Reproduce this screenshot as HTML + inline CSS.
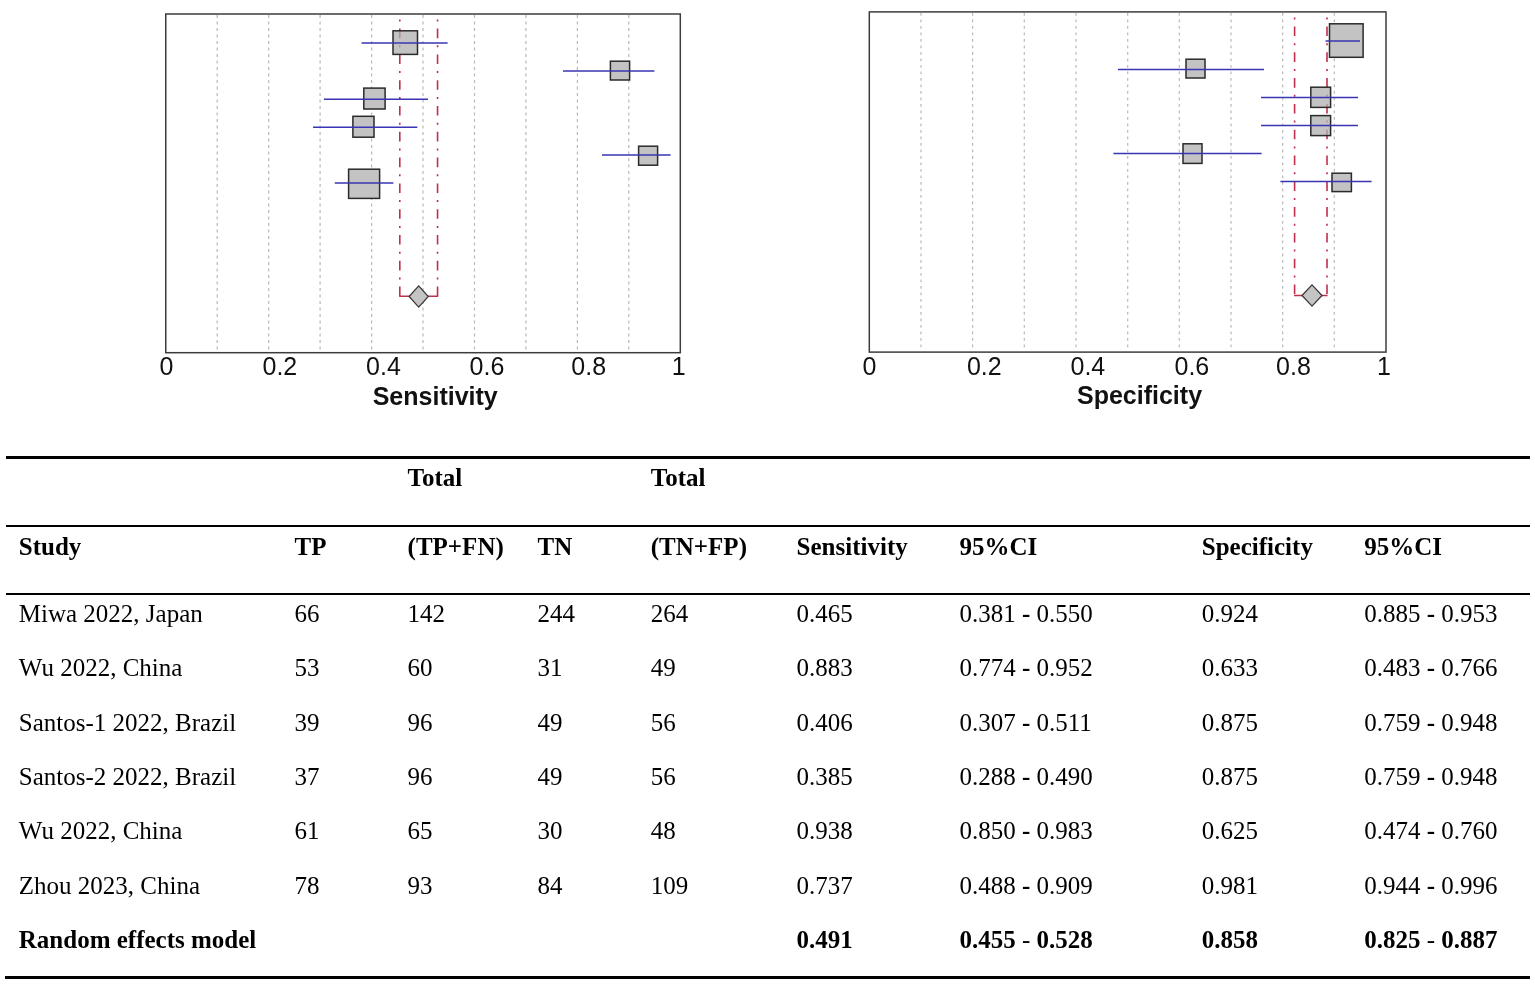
<!DOCTYPE html>
<html lang="en">
<head>
<meta charset="utf-8">
<title>Forest plot: sensitivity and specificity</title>
<style>
html,body{margin:0;padding:0;background:#fff;}
body{width:1535px;height:984px;position:relative;overflow:hidden;font-family:"Liberation Serif","Times New Roman",serif;color:#000;}
svg{position:absolute;left:0;top:0;}
.rule{position:absolute;background:#000;}
.r{position:absolute;left:0;width:1535px;height:30px;line-height:30px;font-size:25px;white-space:nowrap;transform-origin:0 23.45px;transform:scaleY(1.045);}
.r span{position:absolute;top:0;}
.b{font-weight:bold;}
.h{font-style:normal;font-weight:bold;}
.b .h{font-weight:normal;}
</style>
</head>
<body>
<svg width="1535" height="430" viewBox="0 0 1535 430">
<g id="sensitivity-plot">
<line x1="217.2" y1="15.0" x2="217.2" y2="351.7" stroke="#b8b8b8" stroke-width="1.2" stroke-dasharray="2.9 3.6" stroke-dashoffset="0"/>
<line x1="268.7" y1="15.0" x2="268.7" y2="351.7" stroke="#b8b8b8" stroke-width="1.2" stroke-dasharray="2.9 3.6" stroke-dashoffset="0"/>
<line x1="320.1" y1="15.0" x2="320.1" y2="351.7" stroke="#b8b8b8" stroke-width="1.2" stroke-dasharray="2.9 3.6" stroke-dashoffset="0"/>
<line x1="371.6" y1="15.0" x2="371.6" y2="351.7" stroke="#b8b8b8" stroke-width="1.2" stroke-dasharray="2.9 3.6" stroke-dashoffset="0"/>
<line x1="423.0" y1="15.0" x2="423.0" y2="351.7" stroke="#b8b8b8" stroke-width="1.2" stroke-dasharray="2.9 3.6" stroke-dashoffset="0"/>
<line x1="474.5" y1="15.0" x2="474.5" y2="351.7" stroke="#b8b8b8" stroke-width="1.2" stroke-dasharray="2.9 3.6" stroke-dashoffset="0"/>
<line x1="525.9" y1="15.0" x2="525.9" y2="351.7" stroke="#b8b8b8" stroke-width="1.2" stroke-dasharray="2.9 3.6" stroke-dashoffset="0"/>
<line x1="577.4" y1="15.0" x2="577.4" y2="351.7" stroke="#b8b8b8" stroke-width="1.2" stroke-dasharray="2.9 3.6" stroke-dashoffset="0"/>
<line x1="628.8" y1="15.0" x2="628.8" y2="351.7" stroke="#b8b8b8" stroke-width="1.2" stroke-dasharray="2.9 3.6" stroke-dashoffset="0"/>
<rect x="393" y="30.8" width="24.5" height="23.6" fill="#fff"/>
<rect x="610.4" y="61.2" width="19.2" height="18.8" fill="#fff"/>
<rect x="363.8" y="88.1" width="21.3" height="20.9" fill="#fff"/>
<rect x="352.9" y="116.3" width="21.1" height="20.9" fill="#fff"/>
<rect x="638.6" y="146.2" width="19.0" height="19.0" fill="#fff"/>
<rect x="348.6" y="169.2" width="31.0" height="29.2" fill="#fff"/>
<line x1="399.8" y1="14.0" x2="399.8" y2="296.3" stroke="#bf2f4c" stroke-width="1.6" stroke-dasharray="9.6 7.1 2 7.1" stroke-dashoffset="-14.6"/>
<line x1="437.55" y1="14.0" x2="437.55" y2="296.3" stroke="#bf2f4c" stroke-width="1.6" stroke-dasharray="9.6 7.1 2 7.1" stroke-dashoffset="-14.6"/>
<line x1="399.20" y1="296.3" x2="438.15" y2="296.3" stroke="#bf2f4c" stroke-width="1.5"/>
<rect x="393" y="30.8" width="24.5" height="23.6" fill="rgb(176,176,176)" fill-opacity="0.76" stroke="#2a2a2a" stroke-width="1.5"/>
<rect x="610.4" y="61.2" width="19.2" height="18.8" fill="rgb(176,176,176)" fill-opacity="0.76" stroke="#2a2a2a" stroke-width="1.5"/>
<rect x="363.8" y="88.1" width="21.3" height="20.9" fill="rgb(176,176,176)" fill-opacity="0.76" stroke="#2a2a2a" stroke-width="1.5"/>
<rect x="352.9" y="116.3" width="21.1" height="20.9" fill="rgb(176,176,176)" fill-opacity="0.76" stroke="#2a2a2a" stroke-width="1.5"/>
<rect x="638.6" y="146.2" width="19.0" height="19.0" fill="rgb(176,176,176)" fill-opacity="0.76" stroke="#2a2a2a" stroke-width="1.5"/>
<rect x="348.6" y="169.2" width="31.0" height="29.2" fill="rgb(176,176,176)" fill-opacity="0.76" stroke="#2a2a2a" stroke-width="1.5"/>
<line x1="361.6" y1="43" x2="447.6" y2="43" stroke="#3834b4" stroke-width="1.5"/>
<line x1="563" y1="71" x2="654.4" y2="71" stroke="#3834b4" stroke-width="1.5"/>
<line x1="323.9" y1="99.2" x2="428" y2="99.2" stroke="#3834b4" stroke-width="1.5"/>
<line x1="313" y1="127.2" x2="417.3" y2="127.2" stroke="#3834b4" stroke-width="1.5"/>
<line x1="602" y1="155" x2="670.6" y2="155" stroke="#3834b4" stroke-width="1.5"/>
<line x1="334.8" y1="183" x2="393.4" y2="183" stroke="#3834b4" stroke-width="1.5"/>
<polygon points="409.10,296.5 418.7,285.90 428.30,296.5 418.7,307.10" fill="#c4c4c4" stroke="#3a3a3a" stroke-width="1.3"/>
<rect x="165.75" y="14.0" width="514.55" height="338.70" fill="none" stroke="#3c3c3c" stroke-width="1.5"/>
<text x="159.6" y="375.1" font-family="Liberation Sans, Arial, sans-serif" font-size="25" fill="#111">0</text>
<text x="262.5" y="375.1" font-family="Liberation Sans, Arial, sans-serif" font-size="25" fill="#111">0.2</text>
<text x="366.1" y="375.1" font-family="Liberation Sans, Arial, sans-serif" font-size="25" fill="#111">0.4</text>
<text x="469.6" y="375.1" font-family="Liberation Sans, Arial, sans-serif" font-size="25" fill="#111">0.6</text>
<text x="571.3" y="375.1" font-family="Liberation Sans, Arial, sans-serif" font-size="25" fill="#111">0.8</text>
<text x="671.8" y="375.1" font-family="Liberation Sans, Arial, sans-serif" font-size="25" fill="#111">1</text>
<text x="372.7" y="404.6" font-family="Liberation Sans, Arial, sans-serif" font-weight="bold" font-size="25" fill="#111">Sensitivity</text>
</g>
<g id="specificity-plot">
<line x1="921.0" y1="12.9" x2="921.0" y2="351.1" stroke="#b8b8b8" stroke-width="1.2" stroke-dasharray="2.9 3.6" stroke-dashoffset="0"/>
<line x1="972.6" y1="12.9" x2="972.6" y2="351.1" stroke="#b8b8b8" stroke-width="1.2" stroke-dasharray="2.9 3.6" stroke-dashoffset="0"/>
<line x1="1024.3" y1="12.9" x2="1024.3" y2="351.1" stroke="#b8b8b8" stroke-width="1.2" stroke-dasharray="2.9 3.6" stroke-dashoffset="0"/>
<line x1="1076.0" y1="12.9" x2="1076.0" y2="351.1" stroke="#b8b8b8" stroke-width="1.2" stroke-dasharray="2.9 3.6" stroke-dashoffset="0"/>
<line x1="1127.7" y1="12.9" x2="1127.7" y2="351.1" stroke="#b8b8b8" stroke-width="1.2" stroke-dasharray="2.9 3.6" stroke-dashoffset="0"/>
<line x1="1179.3" y1="12.9" x2="1179.3" y2="351.1" stroke="#b8b8b8" stroke-width="1.2" stroke-dasharray="2.9 3.6" stroke-dashoffset="0"/>
<line x1="1231.0" y1="12.9" x2="1231.0" y2="351.1" stroke="#b8b8b8" stroke-width="1.2" stroke-dasharray="2.9 3.6" stroke-dashoffset="0"/>
<line x1="1282.7" y1="12.9" x2="1282.7" y2="351.1" stroke="#b8b8b8" stroke-width="1.2" stroke-dasharray="2.9 3.6" stroke-dashoffset="0"/>
<line x1="1334.3" y1="12.9" x2="1334.3" y2="351.1" stroke="#b8b8b8" stroke-width="1.2" stroke-dasharray="2.9 3.6" stroke-dashoffset="0"/>
<rect x="1329.5" y="23.8" width="33.6" height="33.5" fill="#fff"/>
<rect x="1186" y="59.2" width="19.0" height="18.8" fill="#fff"/>
<rect x="1310.8" y="87.2" width="19.8" height="20.2" fill="#fff"/>
<rect x="1310.8" y="115.6" width="19.8" height="20.0" fill="#fff"/>
<rect x="1183" y="143.8" width="19.0" height="19.6" fill="#fff"/>
<rect x="1332" y="173.2" width="19.4" height="18.4" fill="#fff"/>
<line x1="1294.6" y1="11.9" x2="1294.6" y2="295.4" stroke="#bf2f4c" stroke-width="1.6" stroke-dasharray="9.6 7.1 2 7.1" stroke-dashoffset="-14.6"/>
<line x1="1327" y1="11.9" x2="1327" y2="295.4" stroke="#bf2f4c" stroke-width="1.6" stroke-dasharray="9.6 7.1 2 7.1" stroke-dashoffset="-14.6"/>
<line x1="1294.00" y1="295.4" x2="1327.60" y2="295.4" stroke="#bf2f4c" stroke-width="1.5"/>
<rect x="1329.5" y="23.8" width="33.6" height="33.5" fill="rgb(176,176,176)" fill-opacity="0.76" stroke="#2a2a2a" stroke-width="1.5"/>
<rect x="1186" y="59.2" width="19.0" height="18.8" fill="rgb(176,176,176)" fill-opacity="0.76" stroke="#2a2a2a" stroke-width="1.5"/>
<rect x="1310.8" y="87.2" width="19.8" height="20.2" fill="rgb(176,176,176)" fill-opacity="0.76" stroke="#2a2a2a" stroke-width="1.5"/>
<rect x="1310.8" y="115.6" width="19.8" height="20.0" fill="rgb(176,176,176)" fill-opacity="0.76" stroke="#2a2a2a" stroke-width="1.5"/>
<rect x="1183" y="143.8" width="19.0" height="19.6" fill="rgb(176,176,176)" fill-opacity="0.76" stroke="#2a2a2a" stroke-width="1.5"/>
<rect x="1332" y="173.2" width="19.4" height="18.4" fill="rgb(176,176,176)" fill-opacity="0.76" stroke="#2a2a2a" stroke-width="1.5"/>
<line x1="1325.6" y1="41" x2="1360.0" y2="41" stroke="#3834b4" stroke-width="1.5"/>
<line x1="1118" y1="69.4" x2="1264" y2="69.4" stroke="#3834b4" stroke-width="1.5"/>
<line x1="1261" y1="97.4" x2="1358" y2="97.4" stroke="#3834b4" stroke-width="1.5"/>
<line x1="1261" y1="125.6" x2="1358" y2="125.6" stroke="#3834b4" stroke-width="1.5"/>
<line x1="1113.4" y1="153.6" x2="1261.6" y2="153.6" stroke="#3834b4" stroke-width="1.5"/>
<line x1="1280.4" y1="181.6" x2="1371.6" y2="181.6" stroke="#3834b4" stroke-width="1.5"/>
<polygon points="1302.00,295.5 1312,284.90 1322.00,295.5 1312,306.10" fill="#c4c4c4" stroke="#3a3a3a" stroke-width="1.3"/>
<rect x="869.3" y="11.9" width="516.70" height="340.20" fill="none" stroke="#3c3c3c" stroke-width="1.5"/>
<text x="862.4" y="375.1" font-family="Liberation Sans, Arial, sans-serif" font-size="25" fill="#111">0</text>
<text x="966.9" y="375.1" font-family="Liberation Sans, Arial, sans-serif" font-size="25" fill="#111">0.2</text>
<text x="1070.5" y="375.1" font-family="Liberation Sans, Arial, sans-serif" font-size="25" fill="#111">0.4</text>
<text x="1174.5" y="375.1" font-family="Liberation Sans, Arial, sans-serif" font-size="25" fill="#111">0.6</text>
<text x="1276.1" y="375.1" font-family="Liberation Sans, Arial, sans-serif" font-size="25" fill="#111">0.8</text>
<text x="1377.1" y="375.1" font-family="Liberation Sans, Arial, sans-serif" font-size="25" fill="#111">1</text>
<text x="1077.0" y="404.3" font-family="Liberation Sans, Arial, sans-serif" font-weight="bold" font-size="25" fill="#111">Specificity</text>
</g>
</svg>
<div class="rule" style="left:6.3px;top:455.7px;width:1523.3px;height:3.4px"></div>
<div class="rule" style="left:6.3px;top:525.35px;width:1523.3px;height:1.8px"></div>
<div class="rule" style="left:6.3px;top:593.3px;width:1523.3px;height:1.8px"></div>
<div class="rule" style="left:4.9px;top:975.7px;width:1524.7px;height:3.4px"></div>
<div class="r b" style="top:462.75px"><span style="left:407.6px">Total</span><span style="left:650.8px">Total</span></div>
<div class="r b" style="top:531.75px"><span style="left:18.8px">Study</span><span style="left:294.6px">TP</span><span style="left:407.6px">(TP+FN)</span><span style="left:537.6px">TN</span><span style="left:650.8px">(TN+FP)</span><span style="left:796.6px">Sensitivity</span><span style="left:959.4px">95%CI</span><span style="left:1201.8px">Specificity</span><span style="left:1364.2px">95%CI</span></div>
<div class="r " style="top:598.75px"><span style="left:18.8px">Miwa 2022, Japan</span><span style="left:294.6px">66</span><span style="left:407.6px">142</span><span style="left:537.6px">244</span><span style="left:650.8px">264</span><span style="left:796.6px">0.465</span><span style="left:959.4px">0.381 <i class="h">-</i> 0.550</span><span style="left:1201.8px">0.924</span><span style="left:1364.2px">0.885 <i class="h">-</i> 0.953</span></div>
<div class="r " style="top:652.75px"><span style="left:18.8px">Wu 2022, China</span><span style="left:294.6px">53</span><span style="left:407.6px">60</span><span style="left:537.6px">31</span><span style="left:650.8px">49</span><span style="left:796.6px">0.883</span><span style="left:959.4px">0.774 <i class="h">-</i> 0.952</span><span style="left:1201.8px">0.633</span><span style="left:1364.2px">0.483 <i class="h">-</i> 0.766</span></div>
<div class="r " style="top:707.75px"><span style="left:18.8px">Santos-1 2022, Brazil</span><span style="left:294.6px">39</span><span style="left:407.6px">96</span><span style="left:537.6px">49</span><span style="left:650.8px">56</span><span style="left:796.6px">0.406</span><span style="left:959.4px">0.307 <i class="h">-</i> 0.511</span><span style="left:1201.8px">0.875</span><span style="left:1364.2px">0.759 <i class="h">-</i> 0.948</span></div>
<div class="r " style="top:761.75px"><span style="left:18.8px">Santos-2 2022, Brazil</span><span style="left:294.6px">37</span><span style="left:407.6px">96</span><span style="left:537.6px">49</span><span style="left:650.8px">56</span><span style="left:796.6px">0.385</span><span style="left:959.4px">0.288 <i class="h">-</i> 0.490</span><span style="left:1201.8px">0.875</span><span style="left:1364.2px">0.759 <i class="h">-</i> 0.948</span></div>
<div class="r " style="top:815.75px"><span style="left:18.8px">Wu 2022, China</span><span style="left:294.6px">61</span><span style="left:407.6px">65</span><span style="left:537.6px">30</span><span style="left:650.8px">48</span><span style="left:796.6px">0.938</span><span style="left:959.4px">0.850 <i class="h">-</i> 0.983</span><span style="left:1201.8px">0.625</span><span style="left:1364.2px">0.474 <i class="h">-</i> 0.760</span></div>
<div class="r " style="top:870.75px"><span style="left:18.8px">Zhou 2023, China</span><span style="left:294.6px">78</span><span style="left:407.6px">93</span><span style="left:537.6px">84</span><span style="left:650.8px">109</span><span style="left:796.6px">0.737</span><span style="left:959.4px">0.488 <i class="h">-</i> 0.909</span><span style="left:1201.8px">0.981</span><span style="left:1364.2px">0.944 <i class="h">-</i> 0.996</span></div>
<div class="r b" style="top:924.75px"><span style="left:18.8px">Random effects model</span><span style="left:796.6px">0.491</span><span style="left:959.4px">0.455 <i class="h">-</i> 0.528</span><span style="left:1201.8px">0.858</span><span style="left:1364.2px">0.825 <i class="h">-</i> 0.887</span></div>
</body>
</html>
